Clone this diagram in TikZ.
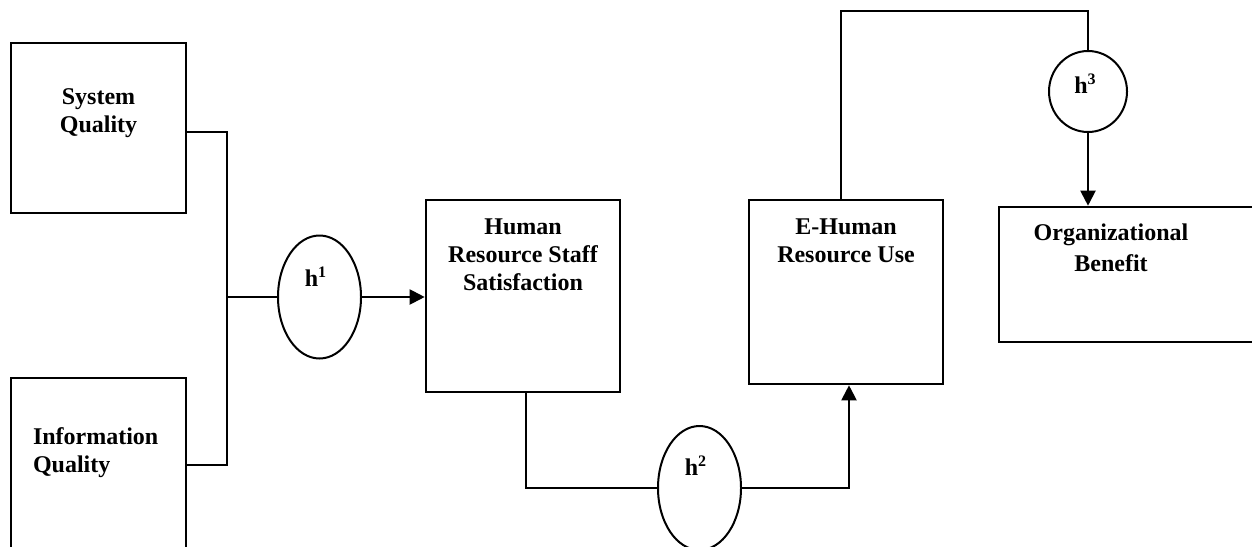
\documentclass[tikz,border=0pt]{standalone}
\usepackage{fontspec}
\setmainfont{Liberation Serif}
\usetikzlibrary{arrows.meta,shapes.geometric}
\begin{document}
\begin{tikzpicture}[x=0.5pt,y=-0.5pt, line width=1pt,
  box/.style={draw, line width=1.3pt, rectangle, inner sep=0pt},
  oval/.style={draw, ellipse, inner sep=0pt, line width=1pt},
  lbl/.style={font=\bfseries\fontsize{12}{13.8}\selectfont, inner sep=0pt, align=center},
  arr/.style={-{Triangle[length=7.5pt,width=7.5pt]}}]
\useasboundingbox (0,0) rectangle (1252,546);
\clip (0,0) rectangle (1252,546);

% boxes
\node[box, minimum width=87.5pt, minimum height=85pt] (sq) at (98.5,128) {};
\node[box, minimum width=87.5pt, minimum height=111pt] (iq) at (98.5,489) {};
\node[box, minimum width=97pt, minimum height=96pt] (hr) at (523,296) {};
\node[box, minimum width=97pt, minimum height=92pt] (ehr) at (846,292) {};
\node[box, minimum width=135.5pt, minimum height=67.5pt] (org) at (1134.5,274.5) {};

% ovals
\node[oval, minimum width=41.5pt, minimum height=61.5pt] (h1) at (319.5,297) {};
\node[oval, minimum width=41.5pt, minimum height=62pt] (h2) at (699.5,488) {};
\node[oval, minimum width=39pt, minimum height=40.5pt] (h3) at (1088,91.5) {};

% texts
\node[lbl, anchor=north] (tsq) at (98.5,88) {System\\Quality};
\node[lbl, anchor=north west, align=left] (tiq) at (32,427) {Information\\Quality};
\node[lbl, anchor=north, font=\bfseries\fontsize{12}{14}\selectfont] (thr) at (523,218) {Human\\Resource Staff\\Satisfaction};
\node[lbl, anchor=north, font=\bfseries\fontsize{12}{14}\selectfont] (tehr) at (846,218) {E-Human\\Resource Use};
\node[lbl, anchor=north, font=\bfseries\fontsize{12}{15.5}\selectfont] (torg) at (1111,223) {Organizational\\Benefit};
\node[lbl, anchor=base] (th1) at (316,286) {h\textsuperscript{1}};
\node[lbl, anchor=base] (th2) at (696,475) {h\textsuperscript{2}};
\node[lbl, anchor=base] (th3) at (1085.5,93) {h\textsuperscript{3}};

% connectors
\coordinate (jt) at (227,132);
\coordinate (jb) at (227,465);
\coordinate (jm) at (227,297);
\draw (sq.east |- jt) -- (jt) -- (jb) -- (iq.east |- jb);
\draw (jm) -- (h1.west);
\draw[arr] (h1.east) -- (h1.east -| hr.west);

\coordinate (c2) at (526,488);
\draw (hr.south -| c2) -- (c2) -- (h2.west);
\coordinate (c3) at (849,488);
\draw[arr] (h2.east) -- (c3) -- (ehr.south -| c3);

\coordinate (c4) at (841,11);
\coordinate (c5) at (1088,11);
\draw (ehr.north -| c4) -- (c4) -- (c5) -- (h3.north);
\draw[arr] (h3.south) -- (org.north -| h3.south);
\end{tikzpicture}
\end{document}
